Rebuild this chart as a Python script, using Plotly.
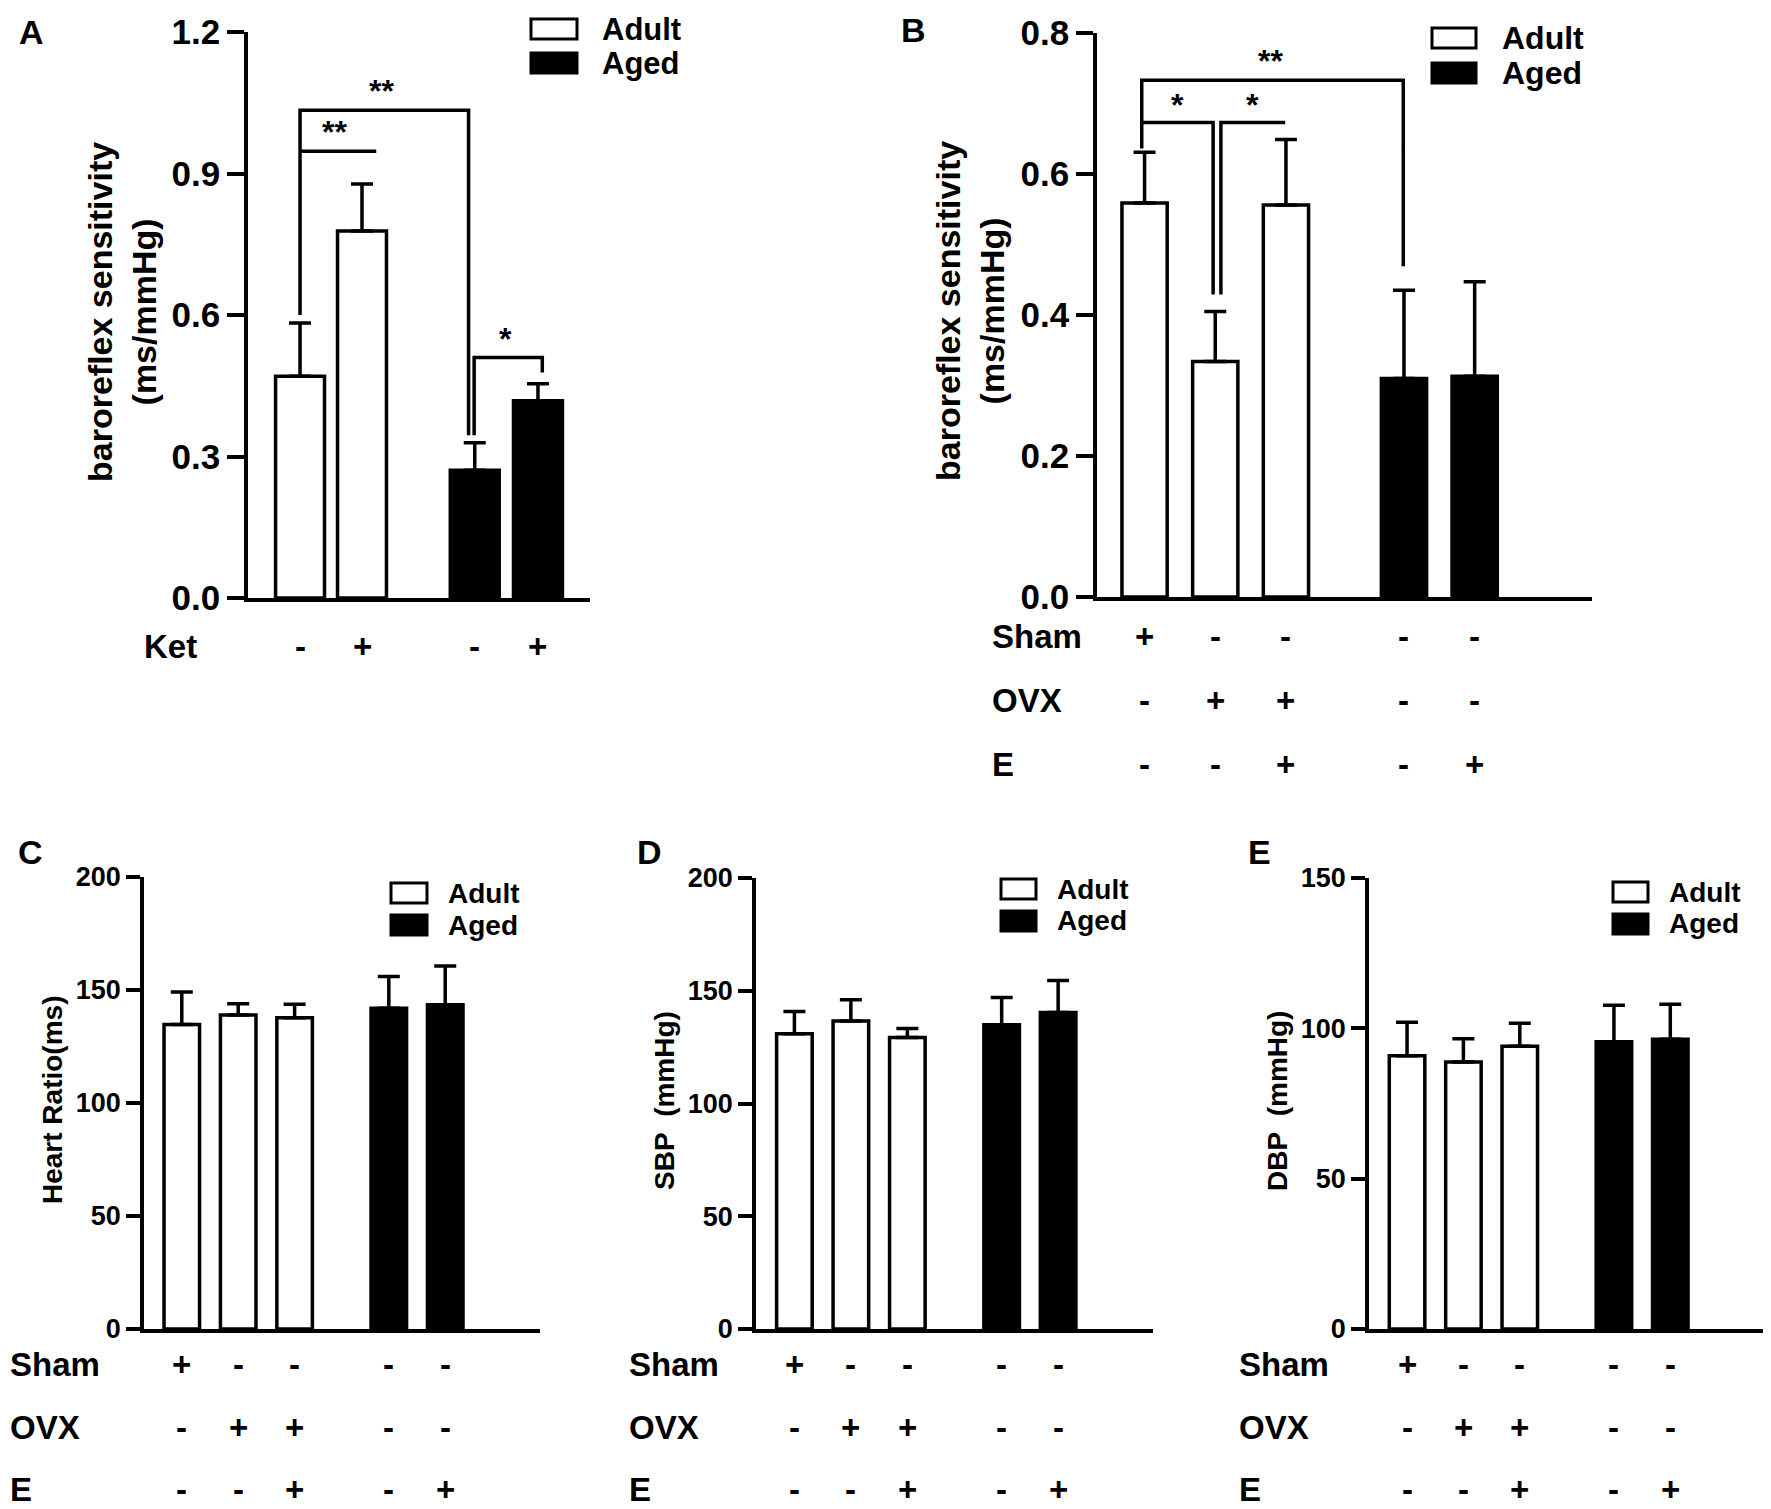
import plotly.graph_objects as go

W, H = 1771, 1509
OFF = 8  # the page body adds an 8 px margin; coordinates below are page pixels
FW, FH = W - OFF, H - OFF
FONT = "Liberation Sans, Arial, sans-serif"

# ---- data ----
pos_a = [0, 1, 2.82, 3.84]
ket = ["-", "+", "-", "+"]
bsa_a = [0.470, 0.778, 0.271, 0.418]
bsa_a_sem = [0.113, 0.100, 0.058, 0.036]
group_a = ["Adult", "Adult", "Aged", "Aged"]

pos_5 = [0, 1, 2, 3.67, 4.67]
group_5 = ["Adult", "Adult", "Adult", "Aged", "Aged"]
sham = ["+", "-", "-", "-", "-"]
ovx = ["-", "+", "+", "-", "-"]
estr = ["-", "-", "+", "-", "+"]

bsa_b = [0.559, 0.334, 0.556, 0.310, 0.313]
bsa_b_sem = [0.072, 0.071, 0.093, 0.125, 0.134]

hr = [134.7, 138.9, 137.7, 141.9, 143.5]
hr_sem = [14.4, 5.0, 6.0, 14.1, 17.1]

sbp = [130.9, 136.6, 129.3, 134.9, 140.4]
sbp_sem = [9.9, 9.4, 4.0, 12.1, 14.1]

dbp = [90.9, 88.8, 94.0, 95.5, 96.4]
dbp_sem = [11.1, 7.7, 7.7, 12.2, 11.6]

FILL = {"Adult": "white", "Aged": "black"}
NB = "\u00a0"


def px(x):
    return (x - OFF) / FW


def py(y):
    return 1 - (y - OFF) / FH


fig = go.Figure()
shapes = []
annots = []

# panel geometry in page pixels: left, right, bottom, top
panels = [
    dict(key="A", pos=pos_a, y=bsa_a, e=bsa_a_sem, g=group_a, box=(248, 590, 598, 32),
         yr=[0, 1.2], dt=0.3, fmt=".1f", xr=[-0.84, 4.68], width=0.79, tick=35, tlen=17,
         title="baroreflex sensitivity<br>(ms/mmHg)", tsize=34, tx=122, ty=312,
         letter=(31, 32), leg=(531, 577, 29, 63, 600), lsize=31,
         rows=[("Ket", ket, 646)], rowx=142, rsize=33),
    dict(key="B", pos=pos_5, y=bsa_b, e=bsa_b_sem, g=group_5, box=(1097, 1592, 597, 33),
         yr=[0, 0.8], dt=0.2, fmt=".1f", xr=[-0.673, 6.33], width=0.64, tick=35, tlen=17,
         title="baroreflex sensitivity<br>(ms/mmHg)", tsize=34, tx=970, ty=311,
         letter=(913, 30), leg=(1432, 1476, 38, 73, 1500), lsize=32,
         rows=[("Sham", sham, 636), ("OVX", ovx, 700), ("E", estr, 764)], rowx=990, rsize=33),
    dict(key="C", pos=pos_5, y=hr, e=hr_sem, g=group_5, box=(144, 540, 1329, 877),
         yr=[0, 200], dt=50, fmt="d", xr=[-0.67, 6.35], width=0.63, tick=27, tlen=14,
         title="Heart Ratio(ms)", tsize=28, tx=52, ty=1100,
         letter=(30, 852), leg=(391, 427, 893, 925, 446), lsize=28,
         rows=[("Sham", sham, 1364), ("OVX", ovx, 1427), ("E", estr, 1489)], rowx=8, rsize=33),
    dict(key="D", pos=pos_5, y=sbp, e=sbp_sem, g=group_5, box=(756, 1153, 1329, 878),
         yr=[0, 200], dt=50, fmt="d", xr=[-0.68, 6.35], width=0.63, tick=27, tlen=14,
         title=f"SBP{NB}{NB}(mmHg)", tsize=28, tx=664, ty=1101,
         letter=(649, 852), leg=(1001, 1036, 889, 921, 1055), lsize=28,
         rows=[("Sham", sham, 1364), ("OVX", ovx, 1427), ("E", estr, 1489)], rowx=627, rsize=33),
    dict(key="E", pos=pos_5, y=dbp, e=dbp_sem, g=group_5, box=(1369, 1765, 1329, 878),
         yr=[0, 150], dt=50, fmt="d", xr=[-0.675, 6.35], width=0.63, tick=27, tlen=14,
         title=f"DBP{NB}{NB}(mmHg)", tsize=28, tx=1277, ty=1101,
         letter=(1259, 852), leg=(1613, 1648, 892, 924, 1667), lsize=28,
         rows=[("Sham", sham, 1364), ("OVX", ovx, 1427), ("E", estr, 1489)], rowx=1237, rsize=33),
]

for i, p in enumerate(panels, start=1):
    xa = "x" if i == 1 else f"x{i}"
    ya = "y" if i == 1 else f"y{i}"
    l, r, b, t = p["box"]
    fig.add_trace(go.Bar(
        x=p["pos"], y=p["y"], xaxis=xa, yaxis=ya, width=p["width"],
        marker=dict(color=[FILL[g] for g in p["g"]], line=dict(color="black", width=3.5)),
        error_y=dict(type="data", array=p["e"], arrayminus=[0] * len(p["e"]),
                     symmetric=False, color="black", thickness=3.5, width=11),
        showlegend=False, hoverinfo="skip",
    ))
    lay_x = "xaxis" if i == 1 else f"xaxis{i}"
    lay_y = "yaxis" if i == 1 else f"yaxis{i}"
    fig.layout[lay_x] = dict(domain=[px(l), px(r)], range=p["xr"], anchor=ya,
                             showline=True, linecolor="black", linewidth=3.5,
                             showticklabels=False, ticks="", showgrid=False, zeroline=False,
                             fixedrange=True, automargin=False)
    fig.layout[lay_y] = dict(domain=[py(b), py(t)], range=p["yr"], anchor=xa,
                             showline=True, linecolor="black", linewidth=3.5,
                             ticks="outside", ticklen=p["tlen"], tickwidth=3.5, tickcolor="black",
                             dtick=p["dt"], tick0=0, tickformat=p["fmt"],
                             tickfont=dict(family=FONT, size=p["tick"], color="black",
                                           weight="bold"),
                             showgrid=False, zeroline=False, fixedrange=True, automargin=False)

    # y-axis title
    annots.append(dict(xref="paper", yref="paper", x=px(p["tx"]), y=py(p["ty"]),
                       text=p["title"], textangle=-90, showarrow=False,
                       xanchor="center", yanchor="middle",
                       font=dict(family=FONT, size=p["tsize"], color="black", weight="bold")))
    # panel letter
    lx, ly = p["letter"]
    annots.append(dict(xref="paper", yref="paper", x=px(lx), y=py(ly), text=p["key"],
                       showarrow=False, xanchor="center", yanchor="middle",
                       font=dict(family=FONT, size=34, color="black", weight="bold")))
    # legend
    bx0, bx1, ly1, ly2, tx = p["leg"]
    bh = min(ly2 - ly1, 32) * 0.62
    for yy, g in ((ly1, "Adult"), (ly2, "Aged")):
        shapes.append(dict(type="rect", xref="paper", yref="paper",
                           x0=px(bx0), x1=px(bx1), y0=py(yy - bh / 2), y1=py(yy + bh / 2),
                           fillcolor=FILL[g], line=dict(color="black", width=3)))
        annots.append(dict(xref="paper", yref="paper", x=px(tx), y=py(yy), text=g,
                           showarrow=False, xanchor="left", yanchor="middle",
                           font=dict(family=FONT, size=p["lsize"], color="black",
                                     weight="bold")))
    # treatment rows
    for label, signs, ry in p["rows"]:
        annots.append(dict(xref="paper", yref="paper", x=px(p["rowx"]), y=py(ry), text=label,
                           showarrow=False, xanchor="left", yanchor="middle",
                           font=dict(family=FONT, size=p["rsize"], color="black",
                                     weight="bold")))
        for xv, s in zip(p["pos"], signs):
            annots.append(dict(xref=xa, yref="paper", x=xv, y=py(ry), text=s,
                               showarrow=False, xanchor="center", yanchor="middle",
                               font=dict(family=FONT, size=p["rsize"], color="black",
                                         weight="bold")))


def bracket(xa, ya, pts, text, tx, ty, size=32):
    path = "M " + " L ".join(f"{x},{y}" for x, y in pts)
    shapes.append(dict(type="path", xref=xa, yref=ya, path=path,
                       line=dict(color="black", width=3.5)))
    annots.append(dict(xref=xa, yref=ya, x=tx, y=ty, text=text, showarrow=False,
                       xanchor="center", yanchor="middle",
                       font=dict(family=FONT, size=size, color="black", weight="bold")))


# significance marks, panel A
bracket("x", "y", [(pos_a[0], 0.60), (pos_a[0], 1.034), (pos_a[2] - 0.1, 1.034),
                   (pos_a[2] - 0.1, 0.345)], "**", 1.31, 1.075)
bracket("x", "y", [(pos_a[0], 0.947), (pos_a[1] + 0.23, 0.947)], "**", 0.56, 0.988)
bracket("x", "y", [(pos_a[2] - 0.01, 0.345), (pos_a[2] - 0.01, 0.51), (pos_a[3] + 0.07, 0.51),
                   (pos_a[3] + 0.07, 0.478)], "*", 3.31, 0.55)

# significance marks, panel B
bracket("x2", "y2", [(pos_5[0] - 0.04, 0.636), (pos_5[0] - 0.04, 0.733), (pos_5[3] - 0.01, 0.733),
                     (pos_5[3] - 0.01, 0.469)], "**", 1.78, 0.76)
bracket("x2", "y2", [(pos_5[0] - 0.04, 0.673), (pos_5[1] - 0.03, 0.673),
                     (pos_5[1] - 0.03, 0.429)], "*", 0.47, 0.698)
bracket("x2", "y2", [(pos_5[1] + 0.08, 0.429), (pos_5[1] + 0.08, 0.673),
                     (pos_5[2] - 0.01, 0.673)], "*", 1.53, 0.698)

fig.update_layout(
    width=FW, height=FH, margin=dict(l=0, r=0, t=0, b=0, autoexpand=False),
    paper_bgcolor="white", plot_bgcolor="rgba(0,0,0,0)",
    shapes=shapes, annotations=annots, barmode="overlay",
    font=dict(family=FONT, color="black"),
)

fig.write_html("out.html")
